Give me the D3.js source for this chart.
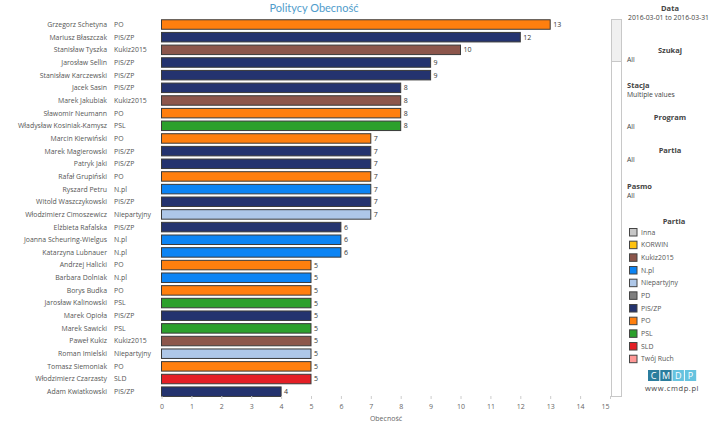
<!DOCTYPE html>
<html><head><meta charset="utf-8">
<script src="https://cdn.jsdelivr.net/npm/d3@7"></script>
<style>
html,body{margin:0;padding:0;background:#fff;}
svg{display:block;font-family:"Open Sans","Noto Sans",sans-serif;}
</style></head>
<body>
<svg id="c" width="720" height="424"></svg>
<script>
const names = ["Grzegorz Schetyna","Mariusz Błaszczak","Stanisław Tyszka","Jarosław Sellin","Stanisław Karczewski","Jacek Sasin","Marek Jakubiak","Sławomir Neumann","Władysław Kosiniak-Kamysz","Marcin Kierwiński","Marek Magierowski","Patryk Jaki","Rafał Grupiński","Ryszard Petru","Witold Waszczykowski","Włodzimierz Cimoszewicz","Elżbieta Rafalska","Joanna Scheuring-Wielgus","Katarzyna Lubnauer","Andrzej Halicki","Barbara Dolniak","Borys Budka","Jarosław Kalinowski","Marek Opioła","Marek Sawicki","Paweł Kukiz","Roman Imielski","Tomasz Siemoniak","Włodzimierz Czarzasty","Adam Kwiatkowski"];
const parties = ["PO","PiS/ZP","Kukiz2015","PiS/ZP","PiS/ZP","PiS/ZP","Kukiz2015","PO","PSL","PO","PiS/ZP","PiS/ZP","PO","N.pl","PiS/ZP","Niepartyjny","PiS/ZP","N.pl","N.pl","PO","N.pl","PO","PSL","PiS/ZP","PSL","Kukiz2015","Niepartyjny","PO","SLD","PiS/ZP"];
const values = [13,12,10,9,9,8,8,8,8,7,7,7,7,7,7,7,6,6,6,5,5,5,5,5,5,5,5,5,5,4];
const xTicks = [0,1,2,3,4,5,6,7,8,9,10,11,12,13,14,15];
const legendParties = ["Inna","KORWIN","Kukiz2015","N.pl","Niepartyjny","PD","PiS/ZP","PO","PSL","SLD","Twój Ruch"];
const legendColors = ["#c7c7c7","#ffc20e","#8c564b","#0c84f4","#aec7e8","#7f7f7f","#24336f","#ff7f0e","#2ca02c","#e41f26","#ff9896"];
const filters = [
  {label:"Data", value:"2016-03-01 to 2016-03-31", center:true},
  {label:"Szukaj", value:"All", center:true},
  {label:"Stacja", value:"Multiple values", center:false},
  {label:"Program", value:"All", center:true},
  {label:"Partia", value:"All", center:true},
  {label:"Pasmo", value:"All", center:false}
];

const svg = d3.select("#c");
const color = d3.scaleOrdinal().domain(legendParties).range(legendColors);
const x = d3.scaleLinear().domain([0,15]).range([161.5,610]);
const y = d3.scaleBand().domain(names).range([16.6,399.6]).padding(0.25);

svg.append("text").attr("x",314).attr("y",12).attr("text-anchor","middle")
  .attr("font-size",11).attr("fill","#4f9ccb").attr("font-family","Lato,'Open Sans',sans-serif").text("Politycy Obecność");

const rows = names.map((n,i)=>({name:n, party:parties[i], value:values[i]}));

svg.append("g").selectAll("text").data(rows).join("text")
  .attr("x",107).attr("y",d=>y(d.name)+y.bandwidth()/2).attr("dy","0.35em")
  .attr("text-anchor","end").attr("font-size",6.9).attr("fill","#555").text(d=>d.name);
svg.append("g").selectAll("text").data(rows).join("text")
  .attr("x",114).attr("y",d=>y(d.name)+y.bandwidth()/2).attr("dy","0.35em")
  .attr("font-size",6.9).attr("fill","#555").text(d=>d.party);

svg.append("g").selectAll("rect").data(rows).join("rect")
  .attr("x",x(0)).attr("y",d=>y(d.name)).attr("width",d=>x(d.value)-x(0)).attr("height",y.bandwidth())
  .attr("fill",d=>color(d.party)).attr("stroke","#3a3a3a").attr("stroke-width",1);

svg.append("g").selectAll("text").data(rows).join("text")
  .attr("x",d=>x(d.value)+3).attr("y",d=>y(d.name)+y.bandwidth()/2).attr("dy","0.35em")
  .attr("font-size",7).attr("fill","#333").text(d=>d.value);

const ax = d3.axisBottom(x).tickValues(xTicks).tickSize(3).tickPadding(5).tickFormat(d3.format("d"));
const axg = svg.append("g").attr("transform","translate(0,396)").call(ax);
axg.select(".domain").remove();
axg.selectAll(".tick line").attr("stroke","#ccc");
axg.selectAll(".tick text").attr("fill","#666").attr("font-size",7).attr("font-family","'Open Sans',sans-serif")
  .attr("dx",d=>d===15?-5:0);
svg.append("text").attr("x",386).attr("y",421).attr("text-anchor","middle").attr("font-size",7).attr("fill","#666").text("Obecność");

// scrollbar
svg.append("rect").attr("x",611.5).attr("y",19.5).attr("width",10).attr("height",377).attr("fill","#fff").attr("stroke","#c8c8c8");
svg.append("rect").attr("x",611.5).attr("y",19.5).attr("width",10).attr("height",42).attr("fill","#f0f0f0").attr("stroke","#c8c8c8");

// filters
const fy = [8,50,85,117,150,186];
filters.forEach((f,i)=>{
  svg.append("text").attr("x",f.center?670:627).attr("y",fy[i]+2.5).attr("text-anchor",f.center?"middle":"start")
    .attr("font-size",7.5).attr("font-weight","bold").attr("fill","#444").text(f.label);
  svg.append("text").attr("x",i===0?628:627).attr("y",fy[i]+12).attr("font-size",6.8).attr("fill","#444").text(f.value);
});

// legend
svg.append("text").attr("x",674).attr("y",224).attr("text-anchor","middle").attr("font-size",7.5)
  .attr("font-weight","bold").attr("fill","#444").text("Partia");
const lg = svg.append("g").selectAll("g").data(legendParties).join("g")
  .attr("transform",(d,i)=>`translate(629,${228+i*12.67})`);
lg.append("rect").attr("x",0.5).attr("y",0.5).attr("width",7.5).attr("height",7.5).attr("fill",d=>color(d)).attr("stroke","#444");
lg.append("text").attr("x",12).attr("y",4.3).attr("dy","0.35em").attr("font-size",6.9).attr("fill","#555").text(d=>d);

// logo
const logo = ["C","M","D","P"];
const lgc = ["#2b7d9e","#2b7d9e","#66c3df","#66c3df"];
logo.forEach((l,i)=>{
  svg.append("rect").attr("x",648+i*12.3).attr("y",370).attr("width",11.3).attr("height",11).attr("fill",lgc[i]);
  svg.append("text").attr("x",648+i*12.3+5.65).attr("y",379).attr("text-anchor","middle").attr("font-size",9).attr("fill","#fff").text(l);
});
svg.append("text").attr("x",672).attr("y",391).attr("text-anchor","middle").attr("font-size",7.5).attr("fill","#444").attr("letter-spacing",0.6).text("www.cmdp.pl");
</script>
</body></html>
